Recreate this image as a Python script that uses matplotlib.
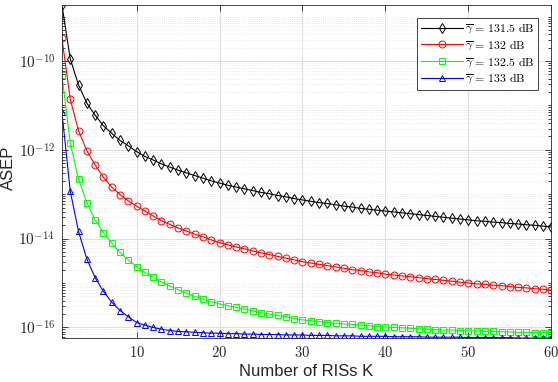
import numpy as np
import matplotlib
matplotlib.use("Agg")
import matplotlib.pyplot as plt
import matplotlib.ticker as mticker

plt.rcParams['font.family'] = ['Liberation Sans', 'DejaVu Sans']
plt.rcParams['mathtext.fontset'] = 'cm'

K = np.arange(1, 61)

# ASEP values, stored as log10 exponents
black_log10 = [-8.74, -9.95, -10.54, -10.95, -11.22, -11.46, -11.63, -11.79, -11.91, -12.04,
               -12.15, -12.23, -12.32, -12.39, -12.46, -12.52, -12.58, -12.64, -12.70, -12.75,
               -12.80, -12.84, -12.88, -12.92, -12.96, -12.99, -13.03, -13.06, -13.10, -13.13,
               -13.16, -13.19, -13.21, -13.24, -13.27, -13.29, -13.32, -13.34, -13.36, -13.38,
               -13.40, -13.42, -13.44, -13.46, -13.48, -13.50, -13.52, -13.54, -13.56, -13.58,
               -13.60, -13.61, -13.63, -13.64, -13.66, -13.67, -13.69, -13.70, -13.72, -13.74]
red_log10 = [-9.49, -10.86, -11.57, -12.02, -12.34, -12.62, -12.84, -13.01, -13.15, -13.27,
             -13.38, -13.49, -13.60, -13.68, -13.76, -13.83, -13.90, -13.96, -14.03, -14.09,
             -14.14, -14.19, -14.23, -14.28, -14.32, -14.36, -14.40, -14.44, -14.48, -14.52,
             -14.55, -14.58, -14.61, -14.64, -14.67, -14.70, -14.72, -14.75, -14.77, -14.80,
             -14.82, -14.84, -14.86, -14.88, -14.90, -14.92, -14.94, -14.96, -14.98, -15.00,
             -15.02, -15.03, -15.05, -15.06, -15.08, -15.10, -15.11, -15.13, -15.14, -15.16]
green_log10 = [-10.32, -11.85, -12.66, -13.19, -13.58, -13.87, -14.10, -14.31, -14.48, -14.63,
               -14.76, -14.87, -14.98, -15.07, -15.15, -15.23, -15.30, -15.36, -15.42, -15.47,
               -15.51, -15.55, -15.59, -15.63, -15.67, -15.70, -15.73, -15.76, -15.80, -15.83,
               -15.85, -15.87, -15.89, -15.91, -15.92, -15.93, -15.95, -15.96, -15.98, -15.99,
               -16.00, -16.01, -16.02, -16.03, -16.04, -16.05, -16.06, -16.06, -16.07, -16.08,
               -16.08, -16.09, -16.09, -16.10, -16.10, -16.11, -16.11, -16.12, -16.12, -16.13]
blue_log10 = [-11.16, -12.93, -13.84, -14.46, -14.88, -15.19, -15.43, -15.62, -15.76, -15.89,
              -15.95, -16.00, -16.04, -16.07, -16.09, -16.10, -16.11, -16.12, -16.13, -16.13,
              -16.14, -16.14, -16.15, -16.15, -16.16, -16.16, -16.16, -16.17, -16.17, -16.17,
              -16.18, -16.18, -16.18, -16.19, -16.19, -16.19, -16.20, -16.20, -16.20, -16.20,
              -16.21, -16.21, -16.21, -16.21, -16.22, -16.22, -16.22, -16.22, -16.22, -16.23,
              -16.23, -16.23, -16.23, -16.23, -16.23, -16.24, -16.24, -16.24, -16.24, -16.24]

labels = [r'$\overline{\gamma}\,=\,131.5\ \mathrm{dB}$',
          r'$\overline{\gamma}\,=\,132\ \mathrm{dB}$',
          r'$\overline{\gamma}\,=\,132.5\ \mathrm{dB}$',
          r'$\overline{\gamma}\,=\,133\ \mathrm{dB}$']
series = [black_log10, red_log10, green_log10, blue_log10]
colors = ['black', '#ff0000', '#00ff00', '#0000ff']
markers = ['d', 'o', 's', '^']

fig = plt.figure(figsize=(5.58, 3.82), dpi=100)
ax = fig.add_axes([0.111, 0.115, 0.877, 0.872])

for vals, c, m, lab in zip(series, colors, markers, labels):
    ax.semilogy(K, 10.0 ** np.array(vals), color=c, marker=m, markersize=5,
                markerfacecolor='none', markeredgewidth=0.7, linewidth=0.8, label=lab)

all_vals = np.concatenate([np.array(s) for s in series])
ax.set_xlim(1, 60)
ax.set_ylim(10.0 ** all_vals.min(), 10.0 ** all_vals.max())

ax.set_xticks([10, 20, 30, 40, 50, 60])
ax.set_xticklabels([r'$%d$' % v for v in [10, 20, 30, 40, 50, 60]])
ax.yaxis.set_major_locator(mticker.FixedLocator([1e-16, 1e-14, 1e-12, 1e-10]))
ax.yaxis.set_major_formatter(mticker.FixedFormatter([r'$10^{-16}$', r'$10^{-14}$', r'$10^{-12}$', r'$10^{-10}$']))
ax.yaxis.set_minor_locator(mticker.LogLocator(base=10, subs=np.arange(1, 10), numticks=50))
ax.yaxis.set_minor_formatter(mticker.NullFormatter())

ax.tick_params(which='both', direction='in', top=True, right=True, colors='#262626',
               labelsize=11, width=0.6)
ax.tick_params(axis='x', labelsize=10.5)
ax.tick_params(which='major', length=4, pad=5)
ax.tick_params(which='minor', length=2)
ax.tick_params(axis='x', which='minor', top=False, bottom=False)

ax.grid(True, which='major', color='#dcdcdc', linewidth=0.7, linestyle='-')
ax.grid(True, which='minor', axis='y', color='#e4e4e4', linewidth=0.6, linestyle=':')
ax.set_axisbelow(True)
for sp in ax.spines.values():
    sp.set_color('#262626')
    sp.set_linewidth(0.6)

ax.set_xlabel('Number of RISs K', fontsize=12, color='#262626', labelpad=3)
ax.set_ylabel('ASEP', fontsize=12, color='#262626')
ax.yaxis.set_label_coords(-0.094, 0.51)

leg = ax.legend(loc='upper right', fontsize=8.5, frameon=True, fancybox=False,
                edgecolor='#262626', framealpha=1, handlelength=3.6, handletextpad=0.15,
                labelspacing=0.2, borderpad=0.3, borderaxespad=1.1)
leg.get_frame().set_linewidth(0.6)

fig.savefig('out.png', dpi=100)
